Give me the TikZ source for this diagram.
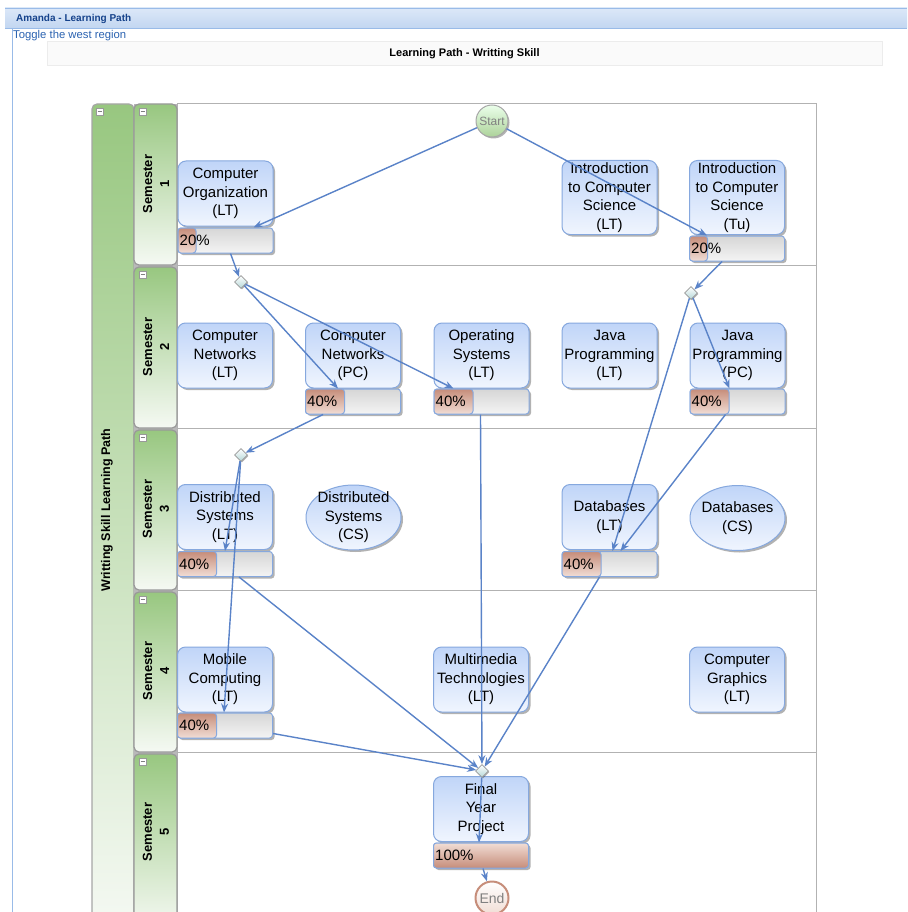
\documentclass[tikz,border=0pt]{standalone}
\usepackage{fontspec}
\setmainfont{Liberation Sans}
\usetikzlibrary{shapes.geometric,shadows,arrows.meta,calc}
\definecolor{nodetop}{HTML}{C0D5F8}
\definecolor{nodebot}{HTML}{F0F5FE}
\definecolor{nodeline}{HTML}{86A8DE}
\definecolor{edgeblue}{HTML}{5A83C8}
\definecolor{lanegreen}{HTML}{98C780}
\definecolor{lanemid}{HTML}{D6E9CD}
\definecolor{lanewhite}{HTML}{F5F9F3}
\definecolor{redtop}{HTML}{C68D7A}
\definecolor{redbot}{HTML}{F1DDD5}
\definecolor{graytop}{HTML}{D6D6D6}
\definecolor{graybot}{HTML}{F4F4F4}
\definecolor{hdrtop}{HTML}{DCE8F8}
\definecolor{hdrbot}{HTML}{C2D6F1}
\definecolor{hdrline}{HTML}{99BBE8}
\definecolor{navy}{HTML}{15428B}
\definecolor{linkblue}{HTML}{2A62B0}
\newcommand\pbar[5]{%
  \node[barbox] (#1) at (#2,#3) {};
  \node[barred, minimum width=#4pt, anchor=west] (#1r) at (#1.west) {};
  \node[bartext, anchor=west] (#1t) at (#1.west) {#5};
}
\begin{document}
\begin{tikzpicture}[x=1pt,y=-1pt,
  course/.style={rounded corners=8pt, draw=nodeline, line width=1pt,
    top color=nodetop, bottom color=nodebot, minimum width=95pt, minimum height=65pt,
    align=center, inner sep=1pt, font=\fontsize{15}{18.5}\selectfont,
    drop shadow={shadow xshift=2pt,shadow yshift=-2pt,fill=black,opacity=.3}},
  ovalnode/.style={ellipse, draw=nodeline, line width=1pt,
    top color=nodetop, bottom color=nodebot, minimum width=95pt, minimum height=65pt,
    inner sep=0pt,
    drop shadow={shadow xshift=2pt,shadow yshift=-2pt,fill=black,opacity=.3}},
  ovaltext/.style={align=center, inner sep=0pt, font=\fontsize{15}{18.5}\selectfont},
  barbox/.style={rounded corners=3pt, draw=nodeline, line width=1pt,
    top color=graytop, bottom color=graybot, minimum width=95pt, minimum height=25pt, inner sep=0pt,
    drop shadow={shadow xshift=2pt,shadow yshift=-2pt,fill=black,opacity=.3}},
  barred/.style={rounded corners=3pt, draw=nodeline, line width=1pt,
    top color=redtop, bottom color=redbot, minimum height=25pt, inner sep=0pt},
  barfull/.style={rounded corners=3pt, draw=nodeline, line width=1pt,
    top color=redbot, bottom color=redtop, minimum height=25pt, inner sep=0pt},
  bartext/.style={inner sep=2pt, font=\fontsize{15}{18}\selectfont},
  gate/.style={diamond, draw=gray!80, line width=.8pt, top color=white, bottom color=cyan!30!gray!45,
    minimum size=13pt, inner sep=0pt, drop shadow={shadow xshift=1pt,shadow yshift=-1pt,fill=black,opacity=.3}},
  flow/.style={draw=edgeblue, line width=1.4pt, -{Stealth[length=9pt,width=7pt]}},
  lanehead/.style={rounded corners=5pt, draw=gray!80, line width=1.2pt, top color=lanegreen, bottom color=lanewhite},
  semtext/.style={rotate=90, align=center, font=\bfseries\fontsize{13}{17}\selectfont},
  mini/.style={draw=gray!80, fill=white, line width=.6pt}
]
\useasboundingbox (0,0) rectangle (907,912);
\clip (0,0) rectangle (907,912);
% window header
\shade[top color=hdrtop, bottom color=hdrbot] (5,8) rectangle (907,28);
\draw[hdrline, line width=.8pt] (5,8) -- (907,8) (5,28) -- (907,28);
\draw[hdrline, line width=1pt] (12,28) -- (12,912);
\node[anchor=west, inner sep=0pt, text=navy, font=\bfseries\fontsize{10}{12}\selectfont] (hdr) at (16,19) {Amanda - Learning Path};
\node[anchor=west, inner sep=0pt, text=linkblue, font=\fontsize{11.3}{13}\selectfont] (tog) at (13,36) {Toggle the west region};
\node[draw=gray!15, fill=gray!4, minimum width=835pt, minimum height=24pt, inner sep=0pt,
  font=\bfseries\fontsize{11}{13}\selectfont] (banner) at (464.5,53.5) {Learning Path - Writting Skill};
% pool
\shade[top color=lanegreen, middle color=lanemid, bottom color=lanewhite, rounded corners=5pt] (92,104) rectangle (134,930);
\draw[gray!70, line width=1.2pt, rounded corners=5pt] (92,104) rectangle (134,930);
\node[rotate=90, font=\bfseries\fontsize{12.5}{15}\selectfont] (pooltxt) at (107,510) {Writting Skill Learning Path};
\draw[mini] (96,108) rectangle (103,115); \draw[gray, line width=.6pt] (97.5,111.5) -- (101.5,111.5);
% lane frame
\fill[gray!55] (134,104) rectangle (178,930);
\draw[gray!60, line width=1pt] (177,104) rectangle (816,930);
\foreach \yy in {265,428,590,752} { \draw[gray!60, line width=1pt] (177,\yy) -- (816,\yy); }
\foreach \ya/\yb/\n in {104/265/1,267/428/2,430/590/3,592/752/4,754/930/5} {
  \shade[lanehead] (134,\ya) rectangle (177,\yb);
  \draw[mini] (139,\ya+4) rectangle (146,\ya+11);
  \draw[gray, line width=.6pt] (140.5,\ya+7.5) -- (144.5,\ya+7.5);
}
\node[semtext] (s1) at (156,184) {Semester\\1};
\node[semtext] (s2) at (156,347) {Semester\\2};
\node[semtext] (s3) at (156,509) {Semester\\3};
\node[semtext] (s4) at (156,671) {Semester\\4};
\node[semtext] (s5) at (156,832) {Semester\\5};
% start / end
\node[circle, draw=gray!70, line width=1pt, top color=green!8!white, bottom color=lanegreen!80,
  minimum size=32pt, inner sep=0pt, text=gray, font=\fontsize{12}{14}\selectfont,
  drop shadow={shadow xshift=1.5pt,shadow yshift=-1.5pt,fill=black,opacity=.3}] (start) at (492,121) {Start};
\node[circle, draw=redtop, line width=2pt, top color=white, bottom color=redbot,
  minimum size=33pt, inner sep=0pt, text=gray, font=\fontsize{14}{16}\selectfont] (end) at (492,898) {End};
% semester 1
\node[course] (co) at (225.5,193.5) {Computer\\Organization\\(LT)};
\pbar{cob}{225.5}{240.5}{18}{20\%}
\node[course, minimum height=74pt] (icl) at (609.5,197.5) {Introduction\\to Computer\\Science\\(LT)};
\node[course, minimum height=74pt] (ict) at (737,197.5) {Introduction\\to Computer\\Science\\(Tu)};
\pbar{ictb}{737}{248.5}{18}{20\%}
% semester 2
\node[course] (cnl) at (225,355.5) {Computer\\Networks\\(LT)};
\node[course] (cnp) at (353,355.5) {Computer\\Networks\\(PC)};
\pbar{cnpb}{353}{401.5}{39}{40\%}
\node[course] (os) at (481.5,355.5) {Operating\\Systems\\(LT)};
\pbar{osb}{481.5}{401.5}{39}{40\%}
\node[course] (jpl) at (609.5,355.5) {Java\\Programming\\(LT)};
\node[course] (jpp) at (737.5,355.5) {Java\\Programming\\(PC)};
\pbar{jppb}{737.5}{401.5}{39}{40\%}
% semester 3
\node[course] (ds) at (225,517) {Distributed\\Systems\\(LT)};
\pbar{dsb}{225}{564}{39}{40\%}
\node[ovalnode, label={[ovaltext]center:Distributed\\Systems\\(CS)}] (dsc) at (353.5,517.5) {};
\node[course] (dbl) at (609.5,517) {Databases\\(LT)};
\pbar{dblb}{609.5}{564}{39}{40\%}
\node[ovalnode, label={[ovaltext]center:Databases\\(CS)}] (dbc) at (737.5,518) {};
% semester 4
\node[course] (mc) at (225,679.5) {Mobile\\Computing\\(LT)};
\pbar{mcb}{225}{725.5}{39}{40\%}
\node[course] (mt) at (481,679.5) {Multimedia\\Technologies\\(LT)};
\node[course] (cg) at (737,679.5) {Computer\\Graphics\\(LT)};
% semester 5
\node[course] (fy) at (481,809) {Final\\Year\\Project};
\node[barbox] (fyb) at (481,855.5) {};
\node[barfull, minimum width=95pt] (fybr) at (fyb.center) {};
\node[bartext, anchor=west] (fybt) at (fyb.west) {100\%};
% gateways
\node[gate] (d1) at (241,282) {};
\node[gate] (d2) at (691,293) {};
\node[gate] (d3) at (241,455) {};
\node[gate] (d4) at (482,771) {};
% connectors
\draw[flow] (start) -- ([xshift=28pt]cob.north);
\draw[flow] (start) -- ([xshift=-30pt]ictb.north);
\draw[flow] ([xshift=5pt]cob.south) -- (d1);
\draw[flow] (d1) -- ([xshift=-15pt]cnpb.north);
\draw[flow] (d1) -- ([xshift=-28pt]osb.north);
\draw[flow] ([xshift=-15pt]ictb.south) -- (d2);
\draw[flow] (d2) -- ([xshift=-8pt]jppb.north);
\draw[flow] (d2) -- ([xshift=3pt]dblb.north);
\draw[flow] ([xshift=-12pt]jppb.south) -- ([xshift=11pt]dblb.north);
\draw[flow] ([xshift=-30pt]cnpb.south) -- (d3);
\draw[flow] (d3) -- (dsb.north);
\draw[flow] (d3) -- ([xshift=-1pt]mcb.north);
\draw[flow] ([xshift=14pt]dsb.south) -- (d4);
\draw[flow] ([xshift=-1pt]osb.south) -- (d4);
\draw[flow] ([xshift=-10pt]dblb.south) -- (d4);
\draw[flow] ([yshift=-8pt]mcb.east) -- (d4);
\draw[flow] (d4) -- ([xshift=-2pt]fyb.north);
\draw[flow] ([xshift=2pt]fyb.south) -- (end);
\end{tikzpicture}
\end{document}
